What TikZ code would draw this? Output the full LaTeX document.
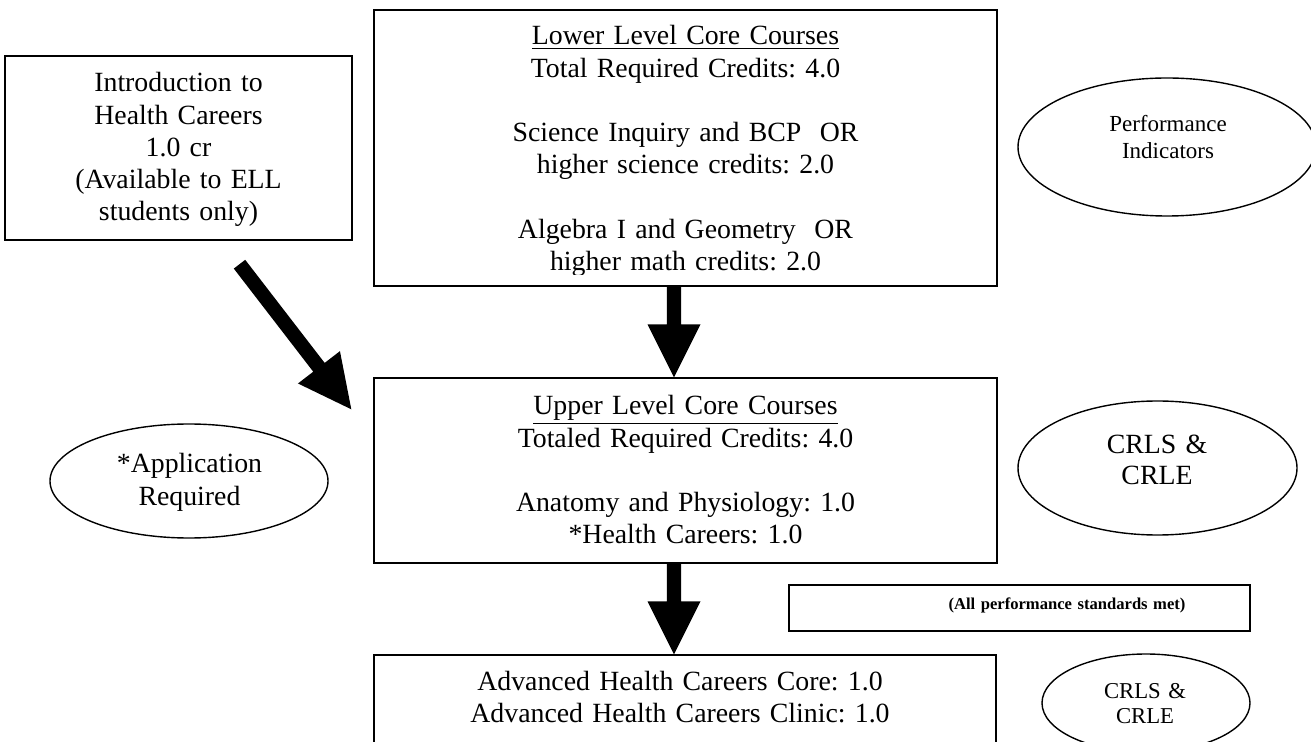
\documentclass[tikz,border=0pt]{standalone}
\usepackage{fontspec}
\setmainfont{Liberation Serif}
\frenchspacing
\usetikzlibrary{calc,shapes.geometric}
\tikzset{
  box/.style={draw, line width=0.7pt, rectangle, inner sep=0pt},
  oval/.style={draw, line width=0.7pt, ellipse, inner sep=0pt},
  txt/.style={anchor=base, align=center, inner sep=0pt, text width=320pt,
    font=\fontsize{13.9}{16.1}\selectfont},
  fatarrow/.style={fill=black},
}
% #1 start coordinate name, #2 tip coordinate name
\newcommand\bigarr[2]{%
  \coordinate (#1-h) at ($(#2)!26.5pt!(#1)$);
  \fill[fatarrow] ($(#1)!3.6pt!90:(#2)$) -- ($(#1-h)!3.6pt!90:(#2)$)
    -- ($(#1-h)!13.25pt!90:(#2)$) -- (#2)
    -- ($(#1-h)!13.25pt!-90:(#2)$) -- ($(#1-h)!3.6pt!-90:(#2)$)
    -- ($(#1)!3.6pt!-90:(#2)$) -- cycle;
}
\begin{document}
\begin{tikzpicture}[x=0.5pt,y=-0.5pt]
\useasboundingbox (0,0) rectangle (1311,742);
\clip (0,0) rectangle (1311,742);

% boxes
\node[box, minimum width=173.5pt, minimum height=92pt] (intro) at (178.5,148) {};
\node[box, minimum width=311.5pt, minimum height=138pt] (top) at (685.5,148) {};
\node[box, minimum width=311.5pt, minimum height=92.5pt] (mid) at (685.5,470.5) {};
\node[box, minimum width=311pt, minimum height=72.5pt] (bot) at (685,727.5) {};
\node[box, minimum width=230.5pt, minimum height=23pt] (std) at (1019.5,608) {};

% ovals
\node[oval, minimum width=149pt, minimum height=69pt] (perf) at (1167,147) {};
\node[oval, minimum width=139.5pt, minimum height=67pt] (crlsA) at (1157.5,468) {};
\node[oval, minimum width=139pt, minimum height=57pt] (app) at (189,481) {};
\node[oval, minimum width=104pt, minimum height=49pt] (crlsB) at (1146,703) {};

% texts
\node[txt, text width=170pt] (introtxt) at (178.5,92)
  {Introduction to\\Health Careers\\1.0 cr\\(Available to ELL\\students only)};
\begin{scope}
\clip (374,10) rectangle (997,275);
\node[txt] (toptxt) at (685.5,45)
  {\underline{Lower Level Core Courses}\\Total Required Credits: 4.0\\[16.1pt]
   Science Inquiry and BCP\ \ OR\\higher science credits: 2.0\\[16.1pt]
   Algebra I and Geometry\ \ OR\\higher math credits: 2.0};
\end{scope}
\node[txt] (midtxt) at (685.5,415)
  {\underline{Upper Level Core Courses}\\Totaled Required Credits: 4.0\\[16.1pt]
   Anatomy and Physiology: 1.0\\{}*Health Careers: 1.0};
\node[txt] (bottxt) at (680,690)
  {Advanced Health Careers Core: 1.0\\Advanced Health Careers Clinic: 1.0};
\node[txt, text width=200pt, font=\bfseries\fontsize{8.3}{9.8}\selectfont] (stdtxt) at (1067,610)
  {(All performance standards met)};
\node[txt, text width=140pt, font=\fontsize{11.5}{13.5}\selectfont] (perftxt) at (1168,132)
  {Performance\\Indicators};
\node[txt, text width=120pt, font=\fontsize{13.9}{15.5}\selectfont] (crlsAtxt) at (1157,454)
  {CRLS \&\\CRLE};
\node[txt, text width=120pt] (apptxt) at (189.5,473)
  {*Application\\Required};
\node[txt, text width=100pt, font=\fontsize{11.35}{12.5}\selectfont] (crlsBtxt) at (1145,698)
  {CRLS \&\\CRLE};

% arrows
\coordinate (a1s) at ($(top.south)+(-11.5,0)$);
\coordinate (a1t) at ($(mid.north)+(-11.5,0)$);
\coordinate (a2s) at ($(mid.south)+(-11.5,0)$);
\coordinate (a2t) at ($(bot.north)+(-11,0)$);
\coordinate (a3s) at ($(intro.south)+(61,23.5)$);
\coordinate (a3t) at ($(mid.north west)+(-22,32)$);
\bigarr{a1s}{a1t}
\bigarr{a2s}{a2t}
\bigarr{a3s}{a3t}
\end{tikzpicture}
\end{document}
